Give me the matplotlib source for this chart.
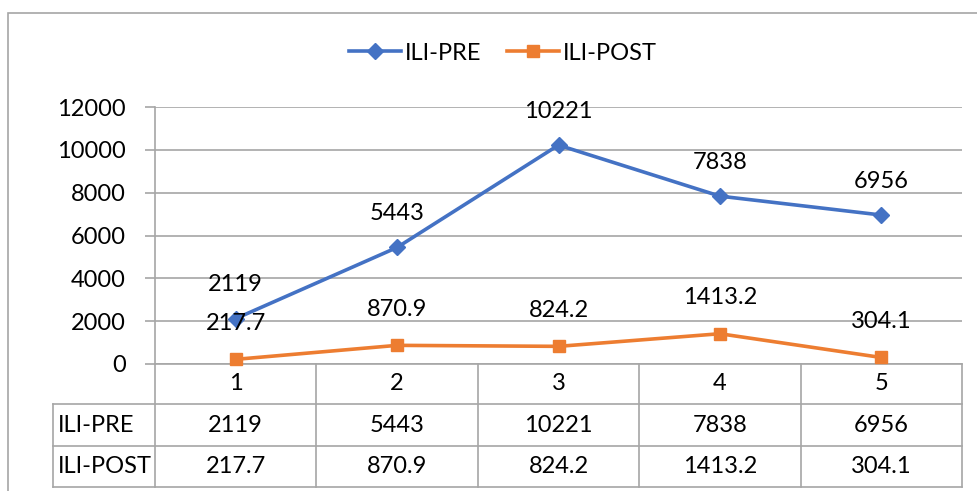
import matplotlib
matplotlib.use("Agg")
import matplotlib.pyplot as plt
from matplotlib.transforms import blended_transform_factory
from matplotlib.patches import Rectangle
from matplotlib.lines import Line2D

categories = ["1", "2", "3", "4", "5"]
series_names = ["ILI-PRE", "ILI-POST"]
ili_pre = [2119, 5443, 10221, 7838, 6956]
ili_post = [217.7, 870.9, 824.2, 1413.2, 304.1]
pre_labels = ["2119", "5443", "10221", "7838", "6956"]
post_labels = ["217.7", "870.9", "824.2", "1413.2", "304.1"]
y_ticks = [0, 2000, 4000, 6000, 8000, 10000, 12000]

plt.rcParams['font.family'] = ['Lato', 'DejaVu Sans']
BLUE = "#4472C4"
ORANGE = "#ED7D31"
GRID = "#a6a6a6"
FS = 17

W, H = 977, 491
fig = plt.figure(figsize=(W / 100, H / 100), dpi=100)
ax = fig.add_axes([155 / W, 1 - 364 / H, (962 - 155) / W, (364 - 107) / H])

# outer chart border
fig.patches.append(Rectangle((8 / W, -0.1), 1.2, 1 - 13 / H + 0.1, transform=fig.transFigure,
                             fill=False, edgecolor=GRID, linewidth=1.2))

x = list(range(1, len(categories) + 1))
ax.plot(x, ili_pre, color=BLUE, lw=2.6, marker="D", ms=8, zorder=3, clip_on=False)
ax.plot(x, ili_post, color=ORANGE, lw=2.6, marker="s", ms=9, zorder=3, clip_on=False)

for xi, v, t in zip(x, ili_pre, pre_labels):
    ax.annotate(t, (xi, v), xytext=(0, 34), textcoords="offset pixels",
                ha="center", va="center", fontsize=FS, color="black")
for xi, v, t in zip(x, ili_post, post_labels):
    ax.annotate(t, (xi, v), xytext=(0, 36), textcoords="offset pixels",
                ha="center", va="center", fontsize=FS, color="black")

ax.set_xlim(0.5, len(categories) + 0.5)
ax.set_ylim(0, 12000)
ax.set_yticks(y_ticks)
ax.set_yticklabels([str(t) for t in y_ticks], fontsize=FS)
ax.tick_params(axis="y", length=7, width=1.2, color=GRID, pad=14)
ax.set_xticks([])
ax.yaxis.grid(True, color=GRID, lw=1.2)
ax.set_axisbelow(True)
for s in ["top", "right", "bottom"]:
    ax.spines[s].set_visible(False)
ax.spines["left"].set_color(GRID)
ax.spines["left"].set_linewidth(1.2)

# data table
tr = blended_transform_factory(ax.transData, ax.transAxes)
ph = 364 - 107
r1 = -(404 - 364) / ph
r2 = -(446 - 364) / ph
r3 = -(487 - 364) / ph
x_left = 0.5 - (155 - 53) / ((962 - 155) / 5)
xr = len(categories) + 0.5
lkw = dict(color=GRID, lw=1.2, transform=tr, clip_on=False)
ax.add_line(Line2D([0.5, xr], [0, 0], **lkw))
for yy in [r1, r2, r3]:
    ax.add_line(Line2D([x_left, xr], [yy, yy], **lkw))
for b in [i + 0.5 for i in range(len(categories) + 1)]:
    ax.add_line(Line2D([b, b], [0, r3], **lkw))
ax.add_line(Line2D([x_left, x_left], [r1, r3], **lkw))

for xi, c in zip(x, categories):
    ax.text(xi, r1 / 2, c, transform=tr, ha="center", va="center", fontsize=FS)
rows = [pre_labels, post_labels]
for ri, (name, vals) in enumerate(zip(series_names, rows)):
    yc = (r1 + r2) / 2 if ri == 0 else (r2 + r3) / 2
    ax.text(x_left + 0.03, yc, name, transform=tr, ha="left", va="center", fontsize=FS)
    for xi, t in zip(x, vals):
        ax.text(xi, yc, t, transform=tr, ha="center", va="center", fontsize=FS)

# legend
handles = [Line2D([], [], color=BLUE, lw=2.6, marker="D", ms=8),
           Line2D([], [], color=ORANGE, lw=2.6, marker="s", ms=9)]
fig.legend(handles, series_names, loc="center", bbox_to_anchor=(503 / W, 1 - 53 / H),
           ncol=2, frameon=False, fontsize=FS, handlelength=2.2, handletextpad=0.15,
           columnspacing=1.1)

fig.savefig("out.png", dpi=100)
